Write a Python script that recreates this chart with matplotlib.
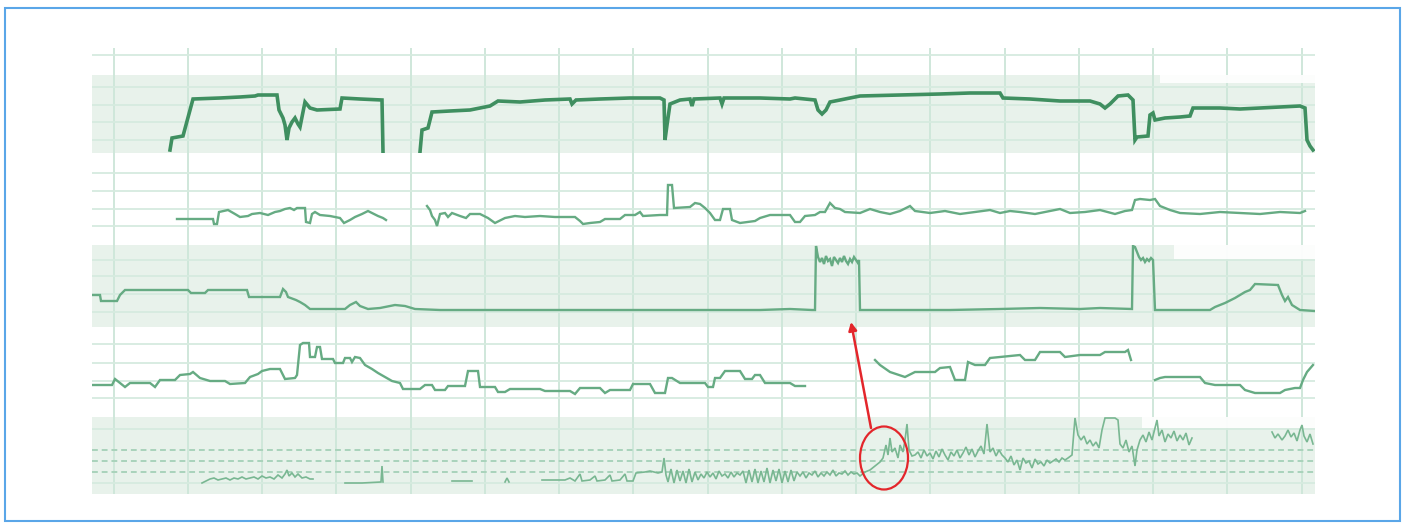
import matplotlib.pyplot as plt
from matplotlib.patches import Ellipse, Rectangle, ConnectionPatch
import numpy as np

# --- DATA (x = sample index along the trend, v = value within each strip) ---
GRID_T = [22, 96, 170, 244, 319, 393, 467, 541, 616, 690, 764, 838, 913, 987, 1061, 1135, 1210]

S1_A = [(78, 3), (80, 15), (91, 17), (101, 54), (128, 55), (148, 56), (163, 57), (166, 58), (185, 58),
        (187, 43), (191, 35), (193, 28), (195, 13), (197, 25), (200, 31), (203, 35), (206, 29), (208, 26),
        (211, 41), (213, 51), (218, 45), (225, 43), (248, 44), (250, 55), (268, 54), (290, 53), (291, 1)]
S1_B = [(328, 1), (330, 23), (336, 25), (340, 41), (358, 42), (378, 43), (388, 45), (398, 47), (406, 52),
        (428, 51), (453, 53), (478, 54), (480, 49), (484, 53), (508, 54), (538, 55), (568, 55), (572, 53),
        (573, 13), (575, 28), (578, 49), (588, 53), (598, 54), (600, 47), (602, 54), (628, 55), (630, 49),
        (632, 55), (668, 55), (698, 54), (703, 55), (723, 53), (726, 43), (730, 39), (734, 43), (738, 51),
        (748, 53), (768, 57), (808, 58), (848, 59), (878, 60), (908, 60), (911, 55), (938, 54), (968, 52),
        (998, 52), (1008, 49), (1013, 45), (1018, 49), (1026, 57), (1036, 58), (1041, 53), (1043, 13),
        (1045, 16), (1056, 17), (1058, 38), (1061, 40), (1063, 33), (1073, 35), (1088, 36), (1098, 37),
        (1101, 45), (1128, 45), (1148, 44), (1168, 45), (1188, 46), (1208, 47), (1213, 45), (1215, 13),
        (1218, 7), (1221, 3)]

S2_A = [(85, 26), (121, 26), (122, 21), (125, 21), (127, 33), (136, 35), (143, 31), (148, 28), (156, 29),
        (160, 31), (168, 32), (176, 30), (183, 33), (188, 34), (193, 36), (198, 37), (202, 35), (205, 37),
        (213, 37), (214, 23), (218, 22), (220, 31), (223, 33), (228, 30), (238, 29), (248, 27), (252, 22),
        (258, 25), (263, 28), (270, 31), (276, 34), (280, 32), (286, 29), (291, 27), (294, 25)]
S2_B = [(335, 39), (338, 35), (340, 29), (343, 25), (345, 19), (348, 31), (353, 32), (356, 28), (360, 32),
        (368, 29), (374, 27), (378, 31), (388, 31), (396, 27), (403, 22), (413, 27), (423, 29), (433, 28),
        (448, 29), (463, 28), (483, 28), (488, 24), (491, 21), (498, 22), (508, 23), (513, 26), (528, 26),
        (533, 30), (543, 30), (548, 33), (551, 29), (568, 30), (575, 30), (576, 60), (580, 60), (582, 37),
        (598, 38), (603, 42), (608, 41), (613, 37), (618, 32), (623, 25), (628, 25), (631, 36), (638, 36),
        (640, 25), (648, 22), (663, 24), (668, 27), (678, 30), (698, 30), (703, 23), (708, 23), (713, 29),
        (723, 30), (728, 33), (733, 33), (738, 42), (743, 37), (748, 36), (753, 33), (768, 32), (778, 36),
        (788, 33), (798, 31), (808, 34), (818, 39), (823, 34), (838, 32), (853, 34), (868, 31), (883, 33),
        (898, 35), (908, 32), (918, 34), (928, 33), (943, 31), (958, 34), (968, 36), (978, 32), (993, 33),
        (1008, 35), (1023, 31), (1033, 34), (1040, 35), (1043, 45), (1048, 46), (1058, 45), (1063, 46),
        (1068, 39), (1078, 35), (1088, 32), (1108, 31), (1128, 33), (1148, 32), (1168, 31), (1188, 33),
        (1208, 32), (1213, 34)]

S3_BASE1 = [(0, 32), (8, 32), (9, 26), (25, 26), (28, 32), (33, 37), (96, 37), (99, 34), (113, 34),
            (116, 37), (155, 37), (157, 30), (188, 30), (191, 38), (194, 35), (196, 30), (204, 27),
            (208, 25), (213, 22), (218, 18), (253, 18), (258, 22), (264, 25), (268, 21), (276, 18),
            (288, 19), (303, 22), (313, 21), (323, 18), (348, 17), (468, 17), (508, 17), (558, 17),
            (608, 17), (668, 17), (698, 18), (720, 17), (723, 17), (724, 81)]
S3_PLATEAU1 = [70, 65, 69, 63, 71, 66, 68, 61, 70, 67, 64, 69, 65, 71, 66, 63, 68, 65, 70, 67, 64]
S3_BASE2 = [(767, 67), (768, 17), (808, 17), (858, 17), (908, 18), (948, 19), (988, 18), (1008, 19),
            (1040, 18), (1041, 81), (1043, 80)]
S3_PLATEAU2 = [75, 70, 67, 69, 65, 68, 66, 69]
S3_BASE3 = [(1061, 67), (1063, 17), (1078, 17), (1118, 17), (1123, 20), (1133, 24), (1143, 29),
            (1153, 35), (1158, 37), (1163, 43), (1186, 42), (1190, 32), (1193, 26), (1196, 30),
            (1200, 22), (1208, 17), (1223, 16)]

S4_A = [(0, 32), (20, 32), (23, 38), (28, 34), (33, 30), (38, 34), (58, 34), (63, 30), (68, 37), (83, 37),
        (88, 42), (98, 43), (101, 45), (108, 39), (118, 36), (133, 36), (138, 33), (153, 34), (158, 40),
        (166, 43), (170, 46), (178, 48), (188, 48), (193, 38), (203, 39), (205, 42), (208, 72), (211, 74),
        (217, 74), (218, 60), (223, 60), (225, 70), (228, 70), (230, 58), (241, 58), (243, 54), (251, 54),
        (253, 59), (258, 59), (260, 55), (263, 60), (268, 59), (273, 52), (280, 48), (286, 44), (293, 40),
        (300, 36), (308, 34), (311, 28), (328, 28), (333, 32), (340, 32), (343, 27), (353, 27), (356, 31),
        (373, 31), (376, 46), (386, 46), (388, 30), (403, 30), (406, 25), (413, 25), (418, 28), (448, 28),
        (453, 26), (478, 26), (483, 23), (488, 29), (508, 29), (513, 24), (518, 27), (538, 27), (541, 33),
        (558, 33), (563, 24), (573, 24), (576, 39), (580, 39), (588, 34), (613, 34), (616, 30), (621, 30),
        (623, 39), (628, 39), (633, 46), (648, 46), (653, 38), (660, 38), (663, 42), (668, 42), (673, 34),
        (698, 34), (703, 31), (713, 31)]
S4_B = [(783, 57), (788, 52), (798, 45), (813, 40), (823, 45), (843, 45), (848, 49), (858, 50), (863, 37),
        (873, 37), (876, 55), (883, 52), (893, 52), (898, 59), (928, 62), (933, 57), (943, 57), (948, 65),
        (968, 65), (973, 60), (988, 62), (1008, 62), (1013, 65), (1033, 65), (1036, 67), (1039, 57)]
S4_C = [(1063, 37), (1068, 39), (1073, 40), (1108, 40), (1113, 34), (1123, 32), (1148, 32), (1153, 27),
        (1163, 24), (1188, 24), (1193, 27), (1203, 29), (1208, 29), (1211, 37), (1215, 45), (1221, 52)]

S5_A = [(110, 11), (114, 13), (118, 15), (122, 16), (126, 14), (130, 15), (134, 16), (138, 14), (142, 16),
        (146, 15), (150, 17), (154, 15), (158, 16), (162, 17), (166, 15), (170, 18), (174, 16), (178, 17),
        (182, 15), (186, 19), (190, 16), (193, 20), (195, 24), (197, 18), (200, 21), (203, 17), (206, 20),
        (210, 16), (214, 17), (218, 15), (221, 15)]
S5_B = [(253, 11), (270, 11), (289, 12), (290, 28), (291, 12)]
S5_C = [(360, 13), (380, 13)]
S5_D = [(413, 12), (415, 16), (417, 12)]
S5_E = [(450, 14), (468, 14), (473, 14), (478, 16), (483, 13), (488, 20), (490, 13), (498, 14), (503, 18),
        (505, 13), (513, 14), (518, 19), (520, 13), (528, 14), (533, 20), (535, 13), (541, 13), (544, 21),
        (553, 22), (558, 23), (566, 21), (570, 22), (572, 36), (574, 19)]
S5_NOISE_START, S5_NOISE_STEP = 576, 3
S5_NOISE = [12, 25, 11, 24, 13, 23, 11, 25, 12, 22, 14,
            20, 16, 22, 17, 21, 15, 23, 18, 20, 16, 22, 17, 21, 19, 23,
            11, 24, 12, 25, 11, 23, 12, 26, 11, 24, 13, 25, 11, 23, 12, 24, 13, 22,
            18, 22, 16, 21, 19, 23, 17, 21, 18, 22, 19, 24, 18, 21, 20, 23, 19, 22, 20, 21]
S5_RISE = [(768, 18), (773, 22), (778, 24), (783, 28), (788, 32), (791, 36), (794, 49), (796, 39),
           (798, 56), (800, 42), (803, 46), (806, 36), (808, 49), (811, 42), (813, 54), (815, 70),
           (817, 44), (820, 38)]
S5_BAND_START = 823
S5_BAND = [39, 42, 36, 44, 38, 41, 35, 43, 37, 45, 39, 34, 42, 38, 44, 36, 41, 47, 39, 45, 37, 43, 48,
           40, 70, 42, 46, 38, 44, 39,
           36, 32, 38, 29, 34, 24, 36, 31, 33, 26, 35, 30, 32, 28, 34, 31, 33, 35, 32, 36, 34]
S5_HIGH = [(976, 36), (980, 39), (983, 76), (986, 59), (989, 54), (992, 58), (995, 50), (998, 54),
           (1001, 48), (1004, 52), (1007, 46), (1010, 64), (1013, 76), (1018, 76), (1023, 76), (1026, 74),
           (1028, 50), (1031, 46), (1034, 54), (1037, 42), (1040, 48), (1043, 28), (1045, 44), (1048, 54),
           (1051, 59), (1054, 52), (1057, 62), (1060, 54), (1063, 66), (1065, 74), (1067, 58), (1070, 64),
           (1073, 52), (1076, 60), (1079, 56), (1082, 63), (1085, 53), (1088, 59), (1091, 54), (1094, 61),
           (1097, 49), (1100, 56)]
S5_END = [(1180, 62), (1183, 56), (1186, 60), (1190, 54), (1193, 58), (1196, 64), (1199, 57), (1202, 61),
          (1205, 53), (1208, 64), (1210, 69), (1212, 58), (1215, 52), (1218, 60), (1221, 50)]

# --- LAYOUT (figure pixels) ---
W, H = 1408, 529
X0, X1 = 92, 1315
SHADE = '#e8f2eb'
HGRID = '#d6ebdf'
VGRID = '#cfe7da'
DARK = '#3f8f60'
MID = '#66ab83'
LIGHT = '#79b792'
RED = '#e3262b'

fig = plt.figure(figsize=(W / 100, H / 100), dpi=100)
fig.patch.set_facecolor('white')


def strip(top, bot):
    ax = fig.add_axes([X0 / W, 1 - bot / H, (X1 - X0) / W, (bot - top) / H])
    ax.set_xlim(0, X1 - X0)
    ax.set_ylim(0, bot - top)
    ax.axis('off')
    for t in GRID_T:
        ax.axvline(t, color=VGRID, lw=1.4, zorder=1)
    return ax


def draw(ax, pts, **kw):
    t, v = zip(*pts)
    ax.plot(t, v, solid_joinstyle='miter', zorder=4, **kw)


ax1 = strip(48, 153)
ax2 = strip(153, 245)
ax3 = strip(245, 327)
ax4 = strip(327, 417)
ax5 = strip(417, 494)

# shaded bands and horizontal grid
ax1.axhspan(0, 78, color=SHADE, zorder=0, lw=0)
ax3.axhspan(0, 82, color=SHADE, zorder=0, lw=0)
ax5.axhspan(0, 77, color=SHADE, zorder=0, lw=0)
for ax, levels in [(ax1, [98, 66, 48, 31, 13]), (ax2, [72, 54, 36, 19]),
                   (ax3, [67, 51, 33, 15]), (ax4, [73, 54, 36, 19]), (ax5, [65, 11])]:
    for v in levels:
        ax.axhline(v, color=HGRID, lw=1.3, zorder=1)
for v in [44, 33, 22]:
    ax5.axhline(v, color='#a9d3bb', lw=1.4, ls=(0, (3, 2)), zorder=1)

# washed-out corners of the screenshot
ax1.add_patch(Rectangle((1068, 70), 160, 8, color='white', alpha=0.9, lw=0, zorder=2))
ax3.add_patch(Rectangle((1082, 68), 145, 14, color='white', alpha=0.9, lw=0, zorder=2))
ax5.add_patch(Rectangle((1050, 66), 175, 11, color='white', alpha=0.9, lw=0, zorder=2))

# traces
draw(ax1, S1_A, color=DARK, lw=2.6)
draw(ax1, S1_B, color=DARK, lw=2.6)
draw(ax2, S2_A, color=MID, lw=1.7)
draw(ax2, S2_B, color=MID, lw=1.7)

p1_t = np.arange(726, 726 + 2 * len(S3_PLATEAU1), 2)
p2_t = np.arange(1045, 1045 + 2 * len(S3_PLATEAU2), 2)
s3 = (S3_BASE1 + list(zip(p1_t, S3_PLATEAU1)) + S3_BASE2 +
      list(zip(p2_t, S3_PLATEAU2)) + S3_BASE3)
draw(ax3, s3, color=MID, lw=1.7)

draw(ax4, S4_A, color=MID, lw=1.7)
draw(ax4, S4_B, color=MID, lw=1.7)
draw(ax4, S4_C, color=MID, lw=1.7)

noise_t = np.arange(S5_NOISE_START, S5_NOISE_START + S5_NOISE_STEP * len(S5_NOISE), S5_NOISE_STEP)
band_t = np.arange(S5_BAND_START, S5_BAND_START + 3 * len(S5_BAND), 3)
for seg in [S5_A, S5_B, S5_C, S5_D]:
    draw(ax5, seg, color=LIGHT, lw=1.2)
s5 = S5_E + list(zip(noise_t, S5_NOISE)) + S5_RISE + list(zip(band_t, S5_BAND)) + S5_HIGH
draw(ax5, s5, color=LIGHT, lw=1.2)
draw(ax5, S5_END, color=LIGHT, lw=1.2)

# red annotation: circled event pointing to the step in strip 3
ax5.add_patch(Ellipse((792, 36), 48, 63, fill=False, ec=RED, lw=1.6, clip_on=False, zorder=6))
arrow = ConnectionPatch(xyA=(779, 66), coordsA=ax5.transData, xyB=(759, 5), coordsB=ax3.transData,
                        arrowstyle='-|>', color=RED, lw=1.8, mutation_scale=12, zorder=6)
fig.add_artist(arrow)

# outer frame of the screenshot
fig.add_artist(Rectangle((5 / W, 1 - 521 / H), 1395 / W, 513 / H, transform=fig.transFigure,
                         fill=False, ec='#5aa6e8', lw=1.5))

fig.savefig('out.png', dpi=100)
